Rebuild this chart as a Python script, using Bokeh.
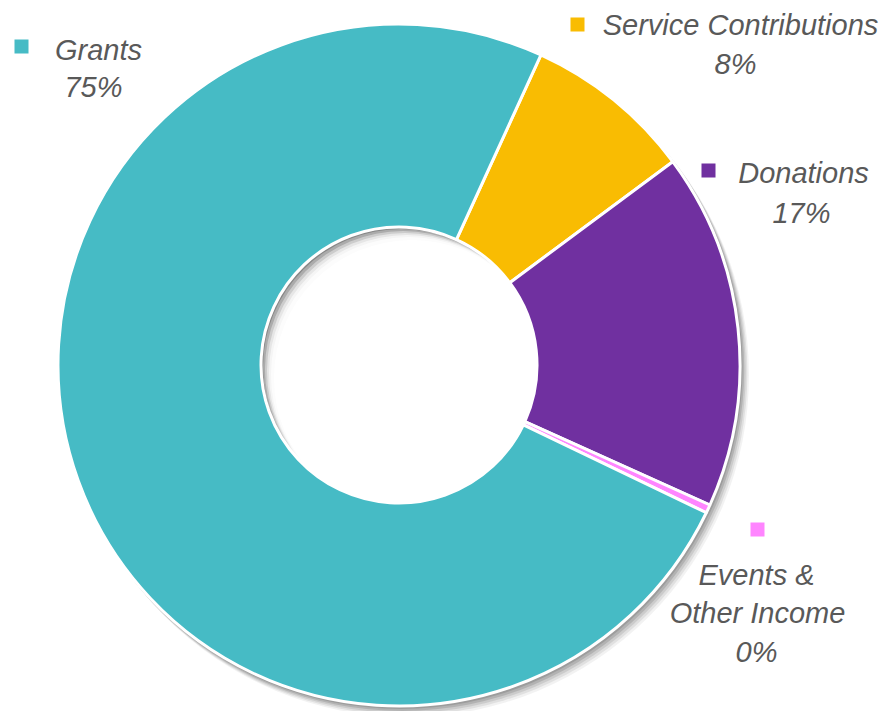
import math
from bokeh.plotting import figure
from bokeh.models import Range1d, ColumnDataSource
from bokeh.core.properties import value
from bokeh.embed import file_html
from bokeh.resources import INLINE

# ---- data ----
categories = ["Service Contributions", "Donations", "Events & Other Income", "Grants"]
shares = [8.0, 16.9, 0.4, 74.7]
colors = ["#F9BC02", "#7030A0", "#FF85FF", "#46BBC5"]

W, H = 879, 711
p = figure(width=W, height=H, output_backend="svg", toolbar_location=None,
           x_range=Range1d(0, W), y_range=Range1d(0, H),
           min_border=0, outline_line_color=None)
p.axis.visible = False
p.grid.visible = False

def sy(y):
    return H - y

cx, cy = 398.5, sy(364.5)
R_out, R_in = 341, 138
start_cw = 24.6  # degrees clockwise from 12 o'clock

total = sum(shares)
starts, ends = [], []
acc = start_cw
for s in shares:
    a0 = acc
    a1 = acc + s / total * 360.0
    starts.append(math.radians(90 - a1))
    ends.append(math.radians(90 - a0))
    acc = a1

# outer drop shadow (bottom-right)
for d, a in [(10, 0.05), (8, 0.07), (6, 0.09), (4, 0.12), (2, 0.12)]:
    p.circle(x=cx + d * 0.8, y=cy - d, radius=R_out + 1, fill_color="#000000",
             fill_alpha=a, line_color=None)

# inner shadow in hole (top-left)
p.circle(x=cx, y=cy, radius=R_in, fill_color="#7a7a7a", fill_alpha=0.6, line_color=None)
for d, a in [(2, 0.3), (4, 0.4), (6, 0.5), (8, 0.6), (10, 0.7)]:
    p.circle(x=cx + d, y=cy - d, radius=R_in, fill_color="#ffffff", fill_alpha=a, line_color=None)
p.circle(x=cx + 13, y=cy - 13, radius=R_in, fill_color="#ffffff", line_color=None)

src = ColumnDataSource(dict(start=starts, end=ends, color=colors))
p.annular_wedge(x=cx, y=cy, inner_radius=R_in, outer_radius=R_out,
                start_angle="start", end_angle="end", direction="anticlock",
                fill_color="color", line_color="#ffffff", line_width=3, source=src)

# ---- labels ----
pct = ["%d%%" % round(s / total * 100) for s in shares]
label_lines = [
    [categories[0], pct[0]],
    [categories[1], pct[1]],
    ["Events &", "Other Income", pct[2]],
    [categories[3], pct[3]],
]
# layout (screen coords)
squares = [(577, 24), (708, 170), (757, 529), (21, 46)]
line_pos = [
    [(740, 24), (735, 63)],
    [(803, 172), (801, 212)],
    [(756, 574), (757, 612), (756, 651)],
    [(98, 49), (93, 86)],
]

sq_x = [s[0] for s in squares]
sq_y = [sy(s[1]) for s in squares]
p.scatter(x=sq_x, y=sq_y, marker="square", size=14, fill_color=colors, line_color=None)

tx, ty, tt = [], [], []
for lines, pos in zip(label_lines, line_pos):
    for t, (x, y) in zip(lines, pos):
        tx.append(x); ty.append(sy(y)); tt.append(t)
p.text(x=tx, y=ty, text=tt, text_font=value("Liberation Sans"), text_font_style="italic",
       text_font_size="29px", text_color="#595959", text_align="center",
       text_baseline="middle")

open("out.html", "w").write(file_html(p, INLINE))
